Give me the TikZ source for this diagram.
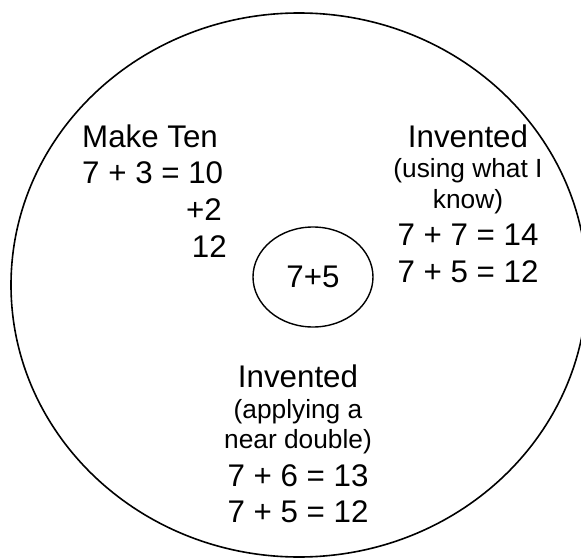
\documentclass[tikz,border=0pt]{standalone}
\usepackage{fontspec}
\setmainfont{Liberation Sans}
\usetikzlibrary{shapes.geometric}

\begin{document}
\begin{tikzpicture}[x=1pt,y=-1pt,
    bigtxt/.style={font=\fontsize{31.3}{36}\selectfont,inner sep=0pt,anchor=base},
    smalltxt/.style={font=\fontsize{26.3}{30}\selectfont,inner sep=0pt,anchor=base}]
  \useasboundingbox (0,0) rectangle (581,559);
  \node[ellipse,draw,line width=1.6pt,minimum width=576pt,minimum height=544pt,
    inner sep=0pt] (outer) at (299,285) {};
  \node[ellipse,draw,line width=1.4pt,minimum width=120pt,minimum height=100pt,
    inner sep=0pt,font=\fontsize{31.3}{36}\selectfont] (sum) at (313,277) {7+5};
  % make ten
  \node[bigtxt,anchor=base west] (mt1) at (82,147) {Make Ten};
  \node[bigtxt,anchor=base west] (mt2) at (82,183) {7 + 3 = 10};
  \node[bigtxt,anchor=base east] (mt3) at (222,220) {+2};
  \node[bigtxt,anchor=base east] (mt4) at (227,257) {12};
  % invented, using what I know
  \node[bigtxt] (iu1) at (468,147) {Invented};
  \node[smalltxt] (iu2) at (468,178) {(using what I};
  \node[smalltxt] (iu3) at (468,208) {know)};
  \node[bigtxt] (iu4) at (468,245) {7 + 7 = 14};
  \node[bigtxt] (iu5) at (468,282) {7 + 5 = 12};
  % invented, near double
  \node[bigtxt] (nd1) at (298,387) {Invented};
  \node[smalltxt] (nd2) at (298,418) {(applying a};
  \node[smalltxt] (nd3) at (298,448) {near double)};
  \node[bigtxt] (nd4) at (298,486) {7 + 6 = 13};
  \node[bigtxt] (nd5) at (298,522) {7 + 5 = 12};
\end{tikzpicture}
\end{document}
